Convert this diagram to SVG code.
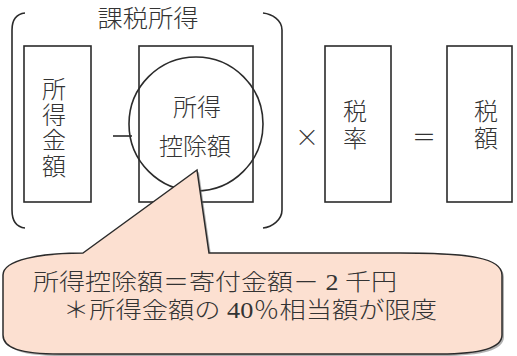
<svg xmlns="http://www.w3.org/2000/svg" width="517" height="356" viewBox="0 0 517 356">
<style>
.box{fill:none;stroke:#2b2b2b;stroke-width:1.6}
.ln{fill:none;stroke:#2b2b2b;stroke-width:1.6}
.t{font-family:"Noto Sans CJK JP","Noto Sans",sans-serif;font-weight:300;font-size:24px;fill:#333;text-anchor:middle}
.v{font-family:"Noto Sans CJK JP","Noto Sans",sans-serif;font-weight:300;font-size:24px;fill:#333;writing-mode:vertical-rl;letter-spacing:1.5px}
.c{font-family:"Liberation Serif","Noto Sans CJK JP",serif;font-weight:300;font-size:23px;fill:#333}
</style>
<rect width="517" height="356" fill="#fff"/>
<g id="bracket">
<path class="ln" d="M25,13 C16,14 12,20 12,30 L12,210 C12,220 16,227 25,228"/>
<path class="ln" d="M263,13 C272,14 282,20 282,30 L282,210 C282,220 272,227 263,228"/>
<text class="t" x="148" y="27" textLength="101" lengthAdjust="spacingAndGlyphs">課税所得</text>
</g>
<g id="income">
<rect class="box" x="24" y="46" width="67" height="156"/>
<text class="v" x="54" y="77">所得金額</text>
</g>
<g id="op-minus"><line class="ln" x1="113" y1="136" x2="132" y2="136"/></g>
<g id="deduction">
<rect class="box" x="139" y="46" width="114" height="156"/>
<circle class="ln" cx="196" cy="124" r="67"/>
<text class="t" x="197" y="116">所得</text>
<text class="t" x="195" y="155">控除額</text>
</g>
<g id="op-times"><text class="t" x="307" y="146">×</text></g>
<g id="rate">
<rect class="box" x="325" y="46" width="66" height="156"/>
<text class="v" x="355" y="99" style="letter-spacing:2.5px">税率</text>
</g>
<g id="op-eq"><text class="t" x="424" y="146">＝</text></g>
<g id="tax">
<rect class="box" x="447" y="46" width="65" height="156"/>
<text class="v" x="486" y="99" style="letter-spacing:2.5px">税額</text>
</g>
<g id="connectors"></g>
<g id="callout">
<path d="M85,255 L199,172 L211,255 L402,255 C472,255 504,260 504,277 L504,337 C504,350 482,356 442,356 L62,356 C22,356 7,350 7,337 L7,277 C7,262 42,255 85,255 Z" fill="#666" opacity="0.5"/>
<path d="M83,253 L197,170 L209,253 L400,253 C470,253 502,258 502,275 L502,335 C502,348 480,354 440,354 L60,354 C20,354 3,348 3,335 L3,275 C3,260 40,253 83,253 Z" fill="#fce0d1" stroke="#2b2b2b" stroke-width="1.5"/>
<text class="c" x="33" y="290" textLength="364" lengthAdjust="spacingAndGlyphs">所得控除額＝寄付金額－ 2 千円</text>
<text class="c" x="63" y="318" textLength="374" lengthAdjust="spacingAndGlyphs">＊所得金額の 40％相当額が限度</text>
</g>
</svg>
